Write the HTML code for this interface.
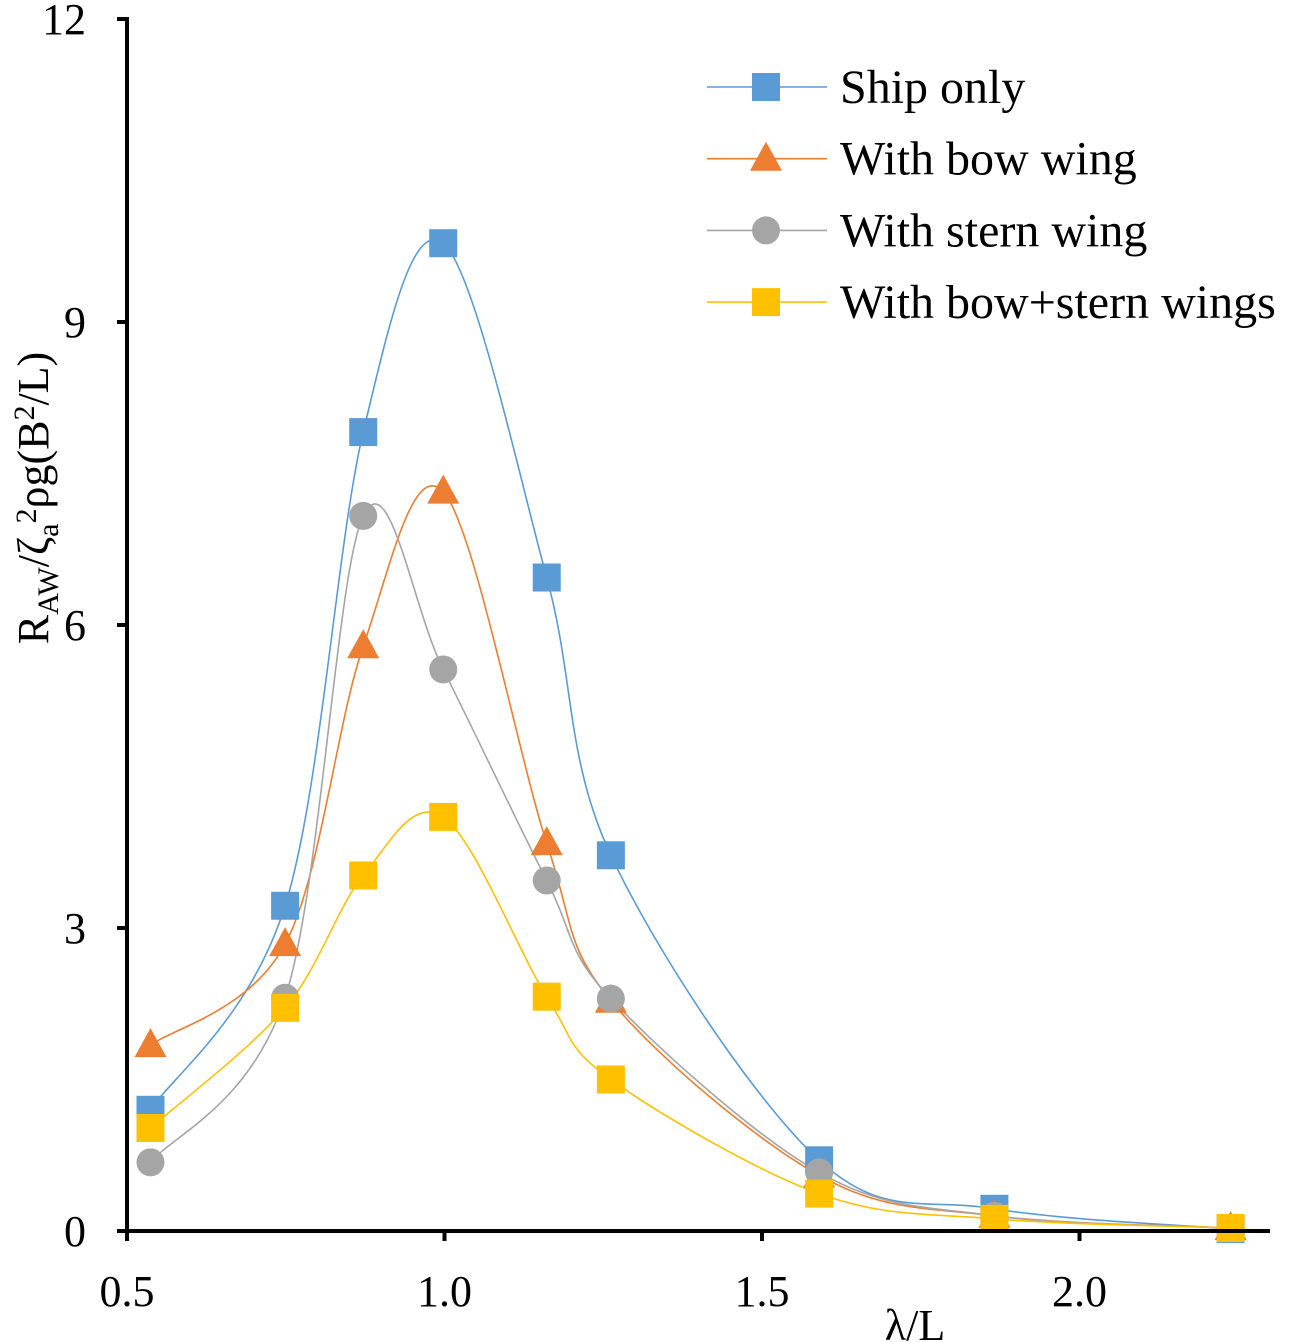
<!DOCTYPE html>
<html><head><meta charset="utf-8"><style>
html,body{margin:0;padding:0;background:#fff;}
svg{display:block;font-family:"Liberation Serif",serif;}
</style></head><body>
<svg id="chart" width="1292" height="1342" viewBox="0 0 1292 1342" xmlns="http://www.w3.org/2000/svg">
<g id="plot"></g>
<g id="axes"></g>
<g id="legend"></g>
<text x="915" y="1340" font-size="44" text-anchor="middle">λ/L</text>
<text transform="translate(48,498) rotate(-90)" font-size="44" text-anchor="middle">R<tspan font-size="30" dy="10">AW</tspan><tspan dy="-10">/ζ</tspan><tspan font-size="30" dy="10">a</tspan><tspan font-size="30" dy="-22">2</tspan><tspan dy="12">ρg(B</tspan><tspan font-size="30" dy="-14">2</tspan><tspan dy="14">/L)</tspan></text>
</svg>
<script>
const xValues=[0.537,0.749,0.872,0.998,1.161,1.262,1.590,1.866,2.238];
const shipOnly=[1.20,3.22,7.91,9.78,6.47,3.72,0.70,0.22,0.02];
const bowWing=[1.84,2.84,5.79,7.32,3.84,2.28,0.55,0.15,0.03];
const sternWing=[0.68,2.31,7.08,5.56,3.47,2.30,0.58,0.15,0.03];
const bothWings=[1.02,2.21,3.52,4.10,2.32,1.50,0.37,0.12,0.03];
const seriesNames=["Ship only","With bow wing","With stern wing","With bow+stern wings"];
const xTicks=["0.5","1.0","1.5","2.0"];
const yTicks=["0","3","6","9","12"];

const NS="http://www.w3.org/2000/svg";
const X0=127,X1=1270,Y0=1231,Ytop=19;
const xs=v=>X0+(v-0.5)*635;
const ys=v=>Y0-v*(Y0-Ytop)/12;
function mk(tag,attrs,parent){const e=document.createElementNS(NS,tag);for(const k in attrs)e.setAttribute(k,attrs[k]);parent.appendChild(e);return e;}
const plot=document.getElementById('plot'),axes=document.getElementById('axes'),legend=document.getElementById('legend');
const colors=["#5B9BD5","#ED7D31","#A5A5A5","#FFC000"];
const shapes=["square","triangle","circle","square"];
const data=[shipOnly,bowWing,sternWing,bothWings];

function spline(pts){
  let d=`M${pts[0][0]},${pts[0][1]}`;
  for(let i=0;i<pts.length-1;i++){
    const p0=pts[Math.max(0,i-1)],p1=pts[i],p2=pts[i+1],p3=pts[Math.min(pts.length-1,i+2)];
    const t=1/6;
    const c1=[p1[0]+(p2[0]-p0[0])*t,p1[1]+(p2[1]-p0[1])*t];
    const c2=[p2[0]-(p3[0]-p1[0])*t,p2[1]-(p3[1]-p1[1])*t];
    d+=` C${c1[0]},${c1[1]} ${c2[0]},${c2[1]} ${p2[0]},${p2[1]}`;
  }
  return d;
}
function marker(shape,cx,cy,color,parent,name){
  let e;
  if(shape==="square")e=mk('rect',{x:cx-14,y:cy-14,width:28,height:28,fill:color},parent);
  else if(shape==="circle")e=mk('circle',{cx:cx,cy:cy,r:14,fill:color},parent);
  else e=mk('polygon',{points:`${cx},${cy-17} ${cx+16},${cy+12} ${cx-16},${cy+12}`,fill:color},parent);
  
  
  return e;
}
data.forEach((vals,si)=>{
  const pts=vals.map((v,i)=>[xs(xValues[i]),ys(v)]);
  const p=mk('path',{d:spline(pts),fill:'none',stroke:colors[si],'stroke-width':1.6},plot);
  
  
});
data.forEach((vals,si)=>{
  vals.forEach((v,i)=>{marker(shapes[si],xs(xValues[i]),ys(v),colors[si],plot,'point-s'+(si+1)+'-'+(i+1));});
});
let a=mk('line',{x1:X0,y1:Ytop-2,x2:X0,y2:Y0+2,stroke:'#000','stroke-width':4},axes);

a=mk('line',{x1:X0-2,y1:Y0,x2:X1,y2:Y0,stroke:'#000','stroke-width':4},axes);

yTicks.forEach(t=>{
  const y=ys(parseFloat(t));
  const l=mk('line',{x1:X0-10,y1:y,x2:X0,y2:y,stroke:'#000','stroke-width':4},axes);
  
  const tx=mk('text',{x:86,y:y+15,'font-size':44,'text-anchor':'end'},axes);tx.textContent=t;
  
});
xTicks.forEach(t=>{
  const x=xs(parseFloat(t));
  const l=mk('line',{x1:x,y1:Y0,x2:x,y2:Y0+10,stroke:'#000','stroke-width':4},axes);
  
  const tx=mk('text',{x:x,y:1306,'font-size':44,'text-anchor':'middle'},axes);tx.textContent=t;
  
});
seriesNames.forEach((n,i)=>{
  const y=87+i*71.7;
  const g=mk('g',{},legend);
  
  mk('line',{x1:707,y1:y,x2:827,y2:y,stroke:colors[i],'stroke-width':1.6},g);
  marker(shapes[i],766,y,colors[i],g,'legend-marker');
  const t=mk('text',{x:840,y:y+16,'font-size':48},g);t.textContent=n;
});
</script>
</body></html>
